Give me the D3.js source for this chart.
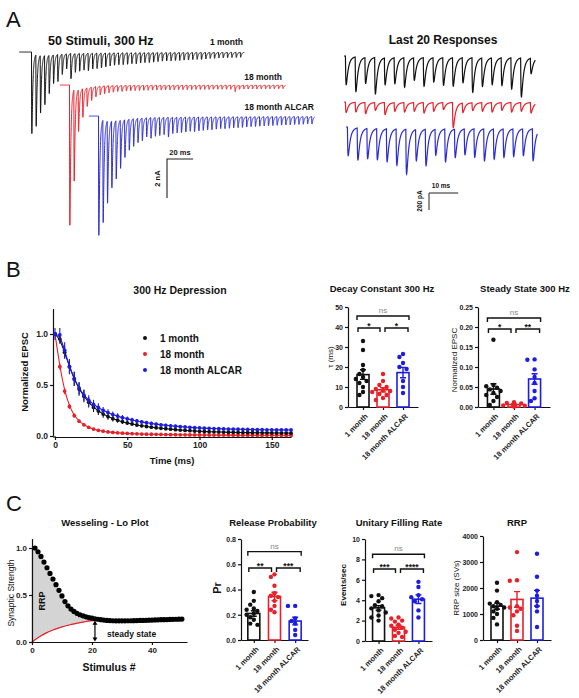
<!DOCTYPE html>
<html><head><meta charset="utf-8">
<script src="https://cdnjs.cloudflare.com/ajax/libs/d3/7.8.5/d3.min.js"></script>
<style>
body{margin:0;background:#fff;}
svg text{font-family:"Liberation Sans",Arial,Helvetica,sans-serif;}
</style></head>
<body><svg id="fig" width="579" height="698"></svg>
<script>
// ---------------- DATA ----------------
const groups = ["1 month", "18 month", "18 month ALCAR"];
const groupColors = ["#111111", "#e8202a", "#1d1de0"];

// Panel A: peak amplitudes (nA) of the 50 responses of the 300 Hz train
const trainBlack = [4.1,3.6,2.9,2.48,1.93,1.45,1.37,1.03,0.77,1.28,0.95,0.9,0.85,0.88,0.8,0.78,0.75,0.7,0.66,0.62,0.6,0.6,0.58,0.55,0.56,0.52,0.5,0.5,0.48,0.45,0.43,0.42,0.42,0.4,0.4,0.38,0.38,0.36,0.35,0.35,0.33,0.3,0.3,0.28,0.28,0.27,0.26,0.26,0.25,0.18];
const trainRed = [7.05,4.6,2.1,1.45,0.94,0.68,0.52,0.45,0.4,0.36,0.33,0.3,0.3,0.28,0.27,0.26,0.26,0.25,0.25,0.24,0.24,0.24,0.23,0.23,0.23,0.22,0.22,0.22,0.22,0.21,0.21,0.21,0.21,0.2,0.2,0.2,0.2,0.2,0.32,0.2,0.19,0.19,0.19,0.19,0.18,0.18,0.18,0.18,0.18,0.17];
const trainBlue = [6.0,5.16,4.14,3.37,2.94,2.43,1.91,1.57,1.4,1.23,1.15,0.97,1.05,0.95,0.92,0.88,1.0,0.82,0.8,0.78,0.75,0.72,0.75,0.7,0.68,0.66,0.65,0.62,0.6,0.6,0.58,0.56,0.55,0.54,0.52,0.5,0.5,0.48,0.47,0.46,0.45,0.44,0.43,0.42,0.42,0.4,0.4,0.39,0.38,0.38];
// Panel A right: last 20 responses (pA)
const last20Black = [330,400,300,420,310,300,340,260,330,280,320,330,290,400,330,310,320,360,450,180];
const last20Red = [120,110,130,90,140,100,110,100,120,100,80,290,110,90,100,110,90,110,100,120];
const last20Blue = [330,370,350,360,380,420,520,360,420,300,380,330,300,330,370,350,330,320,310,370];

// Panel B: normalized EPSC during 300 Hz depression (50 stimuli)
const depBlack = [1.0,0.95,0.82,0.68,0.56,0.46,0.39,0.33,0.28,0.245,0.215,0.19,0.17,0.155,0.14,0.128,0.118,0.108,0.1,0.093,0.087,0.081,0.076,0.071,0.067,0.062,0.058,0.055,0.052,0.049,0.046,0.044,0.042,0.041,0.04,0.038,0.037,0.036,0.035,0.034,0.033,0.033,0.032,0.031,0.031,0.03,0.03,0.029,0.029,0.028];
const depRed = [1.0,0.68,0.44,0.29,0.2,0.145,0.11,0.085,0.068,0.056,0.047,0.04,0.035,0.031,0.028,0.025,0.023,0.021,0.019,0.018,0.017,0.016,0.015,0.014,0.013,0.013,0.012,0.012,0.011,0.011,0.01,0.01,0.01,0.009,0.009,0.009,0.009,0.008,0.008,0.008,0.008,0.008,0.007,0.007,0.007,0.007,0.007,0.007,0.006,0.006];
const depBlue = [1.0,0.99,0.84,0.68,0.56,0.47,0.4,0.35,0.31,0.28,0.25,0.23,0.21,0.195,0.18,0.168,0.157,0.147,0.138,0.13,0.123,0.116,0.11,0.105,0.1,0.096,0.092,0.088,0.085,0.082,0.079,0.077,0.075,0.073,0.071,0.07,0.068,0.067,0.066,0.065,0.064,0.063,0.062,0.062,0.061,0.061,0.06,0.06,0.06,0.059];
const semBlack = [0.01,0.045,0.06,0.07,0.07,0.065,0.06,0.05,0.045,0.04,0.035,0.03,0.028,0.025,0.022,0.02,0.018,0.016,0.015,0.014,0.013,0.012,0.012,0.011,0.011,0.01,0.01,0.01,0.01,0.009,0.009,0.009,0.009,0.009,0.008,0.008,0.008,0.008,0.008,0.008,0.008,0.008,0.008,0.008,0.008,0.008,0.008,0.008,0.008,0.008];
const semRed = [0.01,0.03,0.03,0.025,0.02,0.015,0.012,0.01,0.009,0.008,0.007,0.006,0.005,0.005,0.005,0.005,0.004,0.004,0.004,0.004,0.004,0.004,0.004,0.003,0.003,0.003,0.003,0.003,0.003,0.003,0.003,0.003,0.003,0.003,0.003,0.003,0.003,0.003,0.003,0.003,0.003,0.003,0.003,0.003,0.003,0.003,0.003,0.003,0.003,0.003];
const semBlue = [0.06,0.07,0.08,0.075,0.07,0.06,0.055,0.05,0.045,0.04,0.035,0.032,0.03,0.028,0.026,0.024,0.022,0.02,0.019,0.018,0.017,0.016,0.015,0.015,0.014,0.014,0.013,0.013,0.013,0.012,0.012,0.012,0.012,0.012,0.012,0.012,0.012,0.012,0.012,0.012,0.012,0.012,0.012,0.012,0.012,0.012,0.012,0.012,0.012,0.012];

// Bar charts (points per group, mean, SEM)
const decayPts = [[33,28.5,21,18.5,16.5,15,14,13,12,10,7.5,6],[16.5,13,11,10,9,8.5,8,7.5,6.5,6,4.5,3.5],[26.5,25,22,20,19,13,10,7]];
const decayMean = [16.2,8.6,17.2], decaySem = [2.4,1.1,2.6];
const steadyPts = [[0.168,0.055,0.052,0.048,0.044,0.04,0.035,0.03,0.025,0.015,0.005],[0.012,0.01,0.009,0.008,0.007,0.006,0.005,0.004,0.003,0.002,0.001],[0.119,0.118,0.094,0.075,0.06,0.04,0.022,0.015]];
const steadyMean = [0.045,0.006,0.07], steadySem = [0.013,0.0015,0.013];
const prPts = [[0.38,0.31,0.28,0.25,0.24,0.23,0.21,0.2,0.18,0.16,0.13,0.12],[0.52,0.5,0.43,0.37,0.35,0.34,0.31,0.27,0.24,0.22],[0.27,0.27,0.17,0.15,0.13,0.08,0.04]];
const prMean = [0.21,0.345,0.15], prSem = [0.022,0.033,0.03];
const fillPts = [[4.5,4.4,4.2,3.9,3.5,3.4,3.2,3.0,2.8,2.5,2.3,2.0],[2.3,2.2,2.0,1.9,1.6,1.5,1.3,1.1,0.9,0.8,0.5,0.4],[5.8,5.3,4.5,4.3,4.1,3.9,3.0,2.3]];
const fillMean = [3.25,1.35,4.1], fillSem = [0.22,0.2,0.42];
const rrpPts = [[2200,1900,1450,1400,1350,1300,1250,1200,1100,1000,850,600],[3380,2300,2280,1300,1250,1200,1100,950,550,350],[3320,2430,1900,1700,1500,1300,1100,500]];
const rrpMean = [1300,1560,1610], rrpSem = [120,300,300];

// Wesseling-Lo plot: synaptic strength per stimulus (1..50) and steady-state replenishment line (0..50)
const wessDots = [1.0,0.96,0.91,0.85,0.79,0.73,0.67,0.61,0.55,0.49,0.43,0.385,0.35,0.325,0.305,0.29,0.278,0.268,0.26,0.253,0.247,0.242,0.237,0.233,0.23,0.228,0.226,0.225,0.225,0.225,0.225,0.226,0.226,0.227,0.228,0.229,0.23,0.231,0.232,0.233,0.235,0.236,0.237,0.238,0.239,0.24,0.241,0.242,0.243,0.244];
const wessRed = [0,0.024,0.046,0.066,0.084,0.1,0.115,0.128,0.14,0.151,0.161,0.17,0.178,0.186,0.193,0.2,0.206,0.212,0.218,0.223,0.228,0.231,0.233,0.234,0.235,0.235,0.235,0.235,0.235,0.235,0.235,0.235,0.235,0.235,0.235,0.235,0.235,0.235,0.235,0.235,0.235,0.235,0.235,0.235,0.235,0.235,0.235,0.235,0.235,0.235,0.235];

// ---------------- DRAWING ----------------
const svg = d3.select("#fig");
function T(x, y, s, o = {}) {
  const t = svg.append("text").attr("x", x).attr("y", y).text(s)
    .attr("font-size", o.size || 9)
    .attr("font-weight", o.bold === false ? "normal" : "bold")
    .attr("text-anchor", o.anchor || "start")
    .attr("fill", o.fill || "#111");
  if (o.rot) t.attr("transform", `rotate(${o.rot},${x},${y})`);
  return t;
}
function styleAxis(g, fs) {
  g.selectAll("path,line").attr("stroke", "#111").attr("stroke-width", 1.2);
  g.selectAll("text").attr("font-size", fs || 7.5).attr("font-weight", "bold").attr("fill", "#222")
    .attr("font-family", "'Liberation Sans',Arial,sans-serif");
}

// panel letters
T(6, 27, "A", {size: 22, bold: false});
T(6, 277, "B", {size: 22, bold: false});
T(6, 511, "C", {size: 22, bold: false});

// ---- Panel A traces ----
const ISI = 10 / 3;
const tauR = 0.12, tauD = 0.7, tauS = 6, slowF = 0.04;
let kPeak = 0;
for (let t = 0; t < 5; t += 0.005) kPeak = Math.max(kPeak, Math.exp(-t / tauD) - Math.exp(-t / tauR));
const kern = t => t <= 0 ? 0 : (Math.exp(-t / tauD) - Math.exp(-t / tauR)) / kPeak + slowF * (1 - Math.exp(-t / 0.3)) * Math.exp(-t / tauS);
function synth(amps, t0, tEnd, dt, lat) {
  const pts = [];
  for (let t = t0; t <= tEnd + 1e-9; t += dt) {
    let v = 0;
    amps.forEach((a, i) => { const s = t - i * ISI - lat; if (s > 0 && s < 40) v += a * kern(s); });
    pts.push([t, v]);
  }
  return pts;
}
const pxPerMs = 1.305;
const trainDefs = [
  {amps: trainBlack, x0: 31, base: 52, pre: 9, end: 163.5, c: groupColors[0]},
  {amps: trainRed, x0: 69, base: 85, pre: 7, end: 166, c: groupColors[1]},
  {amps: trainBlue, x0: 98, base: 116, pre: 7, end: 166, c: "#2b2bd6"}
];
const nA = 19.5; // px per nA
trainDefs.forEach(d => {
  const xs = d3.scaleLinear().domain([0, 100]).range([d.x0, d.x0 + 100 * pxPerMs]);
  const ys = d3.scaleLinear().domain([0, 10]).range([d.base, d.base + 10 * nA]);
  const pts = synth(d.amps, -d.pre, d.end, 0.04, 0.4);
  svg.append("path").attr("d", d3.line().x(p => xs(p[0])).y(p => ys(p[1]))(pts))
    .attr("fill", "none").attr("stroke", d.c).attr("stroke-width", 1);
});
T(48, 45, "50 Stimuli, 300 Hz", {size: 12.5});
T(243, 45, groups[0], {size: 8.5, anchor: "end"});
T(282, 80, groups[1], {size: 8.5, anchor: "end"});
T(314, 110, groups[2], {size: 8.5, anchor: "end"});
// scale bar A (20 ms, 2 nA)
{
  const xs = d3.scaleLinear().domain([0, 20]).range([167, 167 + 20 * pxPerMs]);
  const ys = d3.scaleLinear().domain([0, 2]).range([159, 159 + 2 * nA]);
  svg.append("path").attr("d", `M${xs(20)},${ys(0)}H${xs(0)}V${ys(2)}`).attr("fill", "none").attr("stroke", "#222").attr("stroke-width", 1.1);
  T(180, 155, "20 ms", {size: 7.5, anchor: "middle"});
  T(160, ys(1), "2 nA", {size: 7.5, anchor: "middle", rot: -90});
}

// last 20 responses
const l20px = 2.92, pA = 17 / 200;
const l20Defs = [
  {amps: last20Black, x0: 344, base: 56, c: groupColors[0]},
  {amps: last20Red, x0: 344, base: 102, c: groupColors[1]},
  {amps: last20Blue, x0: 346, base: 127, c: "#2b2bd6"}
];
l20Defs.forEach(d => {
  const xs = d3.scaleLinear().domain([0, 10]).range([d.x0, d.x0 + 10 * l20px]);
  const ys = d3.scaleLinear().domain([0, 1000]).range([d.base, d.base + 1000 * pA]);
  const pts = synth(d.amps, 0, 19 * ISI + 2.2, 0.03, 0.5);
  svg.append("path").attr("d", d3.line().x(p => xs(p[0])).y(p => ys(p[1]))(pts))
    .attr("fill", "none").attr("stroke", d.c).attr("stroke-width", 1.2);
});
T(443, 44, "Last 20 Responses", {size: 12, anchor: "middle"});
{
  const xs = d3.scaleLinear().domain([0, 10]).range([429, 429 + 10 * l20px]);
  const ys = d3.scaleLinear().domain([0, 200]).range([193, 193 + 200 * pA]);
  svg.append("path").attr("d", `M${xs(10)},${ys(0)}H${xs(0)}V${ys(200)}`).attr("fill", "none").attr("stroke", "#222").attr("stroke-width", 1);
  T(441, 188, "10 ms", {size: 6.5, anchor: "middle"});
  T(422, 201, "200 pA", {size: 6.5, anchor: "middle", rot: -90});
}

// ---- Panel B: depression ----
T(180, 294, "300 Hz Depression", {size: 10.5, anchor: "middle"});
const bX = d3.scaleLinear().domain([0, 163.3]).range([55, 291]);
const bY = d3.scaleLinear().domain([0, 1.25]).range([436, 308.5]);
{
  const gy = svg.append("g").attr("transform", "translate(53,0)")
    .call(d3.axisLeft(bY).tickValues([0, 0.5, 1]).tickFormat(d3.format(".1f")).tickSize(3).tickSizeOuter(0).tickPadding(2));
  styleAxis(gy, 8.5);
  const gx = svg.append("g").attr("transform", "translate(0,437)")
    .call(d3.axisBottom(bX).tickValues([0, 50, 100, 150]).tickSize(3).tickSizeOuter(0).tickPadding(2));
  styleAxis(gx, 8.5);
  svg.append("line").attr("x1", 53).attr("x2", 56).attr("y1", 437).attr("y2", 437).attr("stroke", "#111").attr("stroke-width", 1.2);
  T(172, 464, "Time (ms)", {size: 9.5, anchor: "middle"});
  T(28, 372, "Normalized EPSC", {size: 9.5, anchor: "middle", rot: -90});
  const stimT = d3.range(50).map(i => i * ISI);
  const series = [[depRed, semRed, groupColors[1]], [depBlack, semBlack, groupColors[0]], [depBlue, semBlue, groupColors[2]]];
  series.forEach(([v, s, c]) => {
    svg.append("path").attr("d", d3.line().curve(d3.curveBasis).x((d, i) => bX(stimT[i])).y(d => bY(d))(v))
      .attr("fill", "none").attr("stroke", c).attr("stroke-width", 1.1);
  });
  series.forEach(([v, s, c]) => {
    const g = svg.append("g");
    v.forEach((d, i) => {
      g.append("line").attr("x1", bX(stimT[i])).attr("x2", bX(stimT[i])).attr("y1", bY(d - s[i])).attr("y2", bY(d + s[i])).attr("stroke", c).attr("stroke-width", 1.1);
      g.append("circle").attr("cx", bX(stimT[i])).attr("cy", bY(d)).attr("r", 1.9).attr("fill", c);
    });
  });
  groups.forEach((gname, i) => {
    svg.append("circle").attr("cx", 145).attr("cy", 338 + i * 16).attr("r", 2).attr("fill", groupColors[i]);
    T(160, 342 + i * 16, gname, {size: 10});
  });
}

// ---- bar charts ----
function barChart(c) {
  const y = d3.scaleLinear().domain([0, c.yMax]).range([c.y0, c.yTop]);
  const x = d3.scalePoint().domain(groups).range([c.ax, c.xEnd]).padding(c.pad);
  T(c.titleX, c.titleY, c.title, {size: 9.5, anchor: "middle"});
  const gy = svg.append("g").attr("transform", `translate(${c.ax},0)`)
    .call(d3.axisLeft(y).tickValues(c.ticks).tickFormat(c.fmt).tickSize(3).tickSizeOuter(0).tickPadding(2));
  styleAxis(gy, 7);
  const gx = svg.append("g").attr("transform", `translate(0,${c.y0})`)
    .call(d3.axisBottom(x).tickSize(3).tickSizeOuter(0));
  styleAxis(gx, 7.5);
  gx.selectAll(".tick text").attr("x", 0).attr("y", 0).attr("dy", "0.35em")
    .attr("transform", "translate(3,8) rotate(-45)").attr("text-anchor", "end");
  T(c.ylabX, c.ylabY, c.ylab, {size: c.ylabSize || 8, anchor: "middle", rot: -90, bold: !!c.ylabBold});
  const bw = 12;
  groups.forEach((gname, gi) => {
    const cx = x(gname), col = groupColors[gi];
    const g = svg.append("g");
    g.append("rect").attr("x", cx - bw / 2).attr("y", y(c.mean[gi])).attr("width", bw).attr("height", c.y0 - y(c.mean[gi]))
      .attr("fill", "white").attr("stroke", col).attr("stroke-width", 1.6);
    // beeswarm points
    const placed = [];
    const r = 2.2;
    c.pts[gi].slice().sort((a, b) => b - a).forEach(v => {
      const py = y(v);
      const offs = [0, -3.6, 3.6, -7.2, 7.2, -10.8, 10.8];
      let ox = 0;
      for (const o of offs) {
        if (placed.every(p => Math.hypot(p[0] - o, p[1] - py) >= 2 * r * 0.95)) { ox = o; break; }
      }
      placed.push([ox, py]);
      g.append("circle").attr("cx", cx + ox).attr("cy", py).attr("r", r).attr("fill", col);
    });
    const m = c.mean[gi], s = c.sem[gi];
    g.append("path").attr("d", `M${cx},${y(m - s)}V${y(m + s)}M${cx - 3},${y(m + s)}H${cx + 3}M${cx - 3},${y(m - s)}H${cx + 3}`)
      .attr("stroke", col).attr("stroke-width", 1.4).attr("fill", "none");
  });
  (c.brackets || []).forEach(([a, b, lab, val]) => {
    const xa = x(groups[a]), xb = x(groups[b]);
    let x1, x2;
    if (b - a === 2) { x1 = xa - 6; x2 = xb + 6; }
    else if (a === 0) { x1 = xa - 5; x2 = xb - 3; }
    else { x1 = xa + 2; x2 = xb + 5; }
    const yy = y(val);
    svg.append("path").attr("d", `M${x1},${yy + 4}V${yy}H${x2}V${yy + 4}`).attr("fill", "none").attr("stroke", "#111").attr("stroke-width", 1.4);
    if (lab === "ns") T((x1 + x2) / 2, yy - 3, lab, {size: 8, anchor: "middle", bold: false, fill: "#888"});
    else T((x1 + x2) / 2, yy + 1, lab, {size: 8.5, anchor: "middle"});
  });
}
barChart({title: "Decay Constant 300 Hz", titleX: 382, titleY: 292, ax: 348, xEnd: 418, pad: 0.75, y0: 407, yTop: 307, yMax: 50,
  ticks: [0, 10, 20, 30, 40, 50], fmt: d3.format("d"), ylab: "τ (ms)", ylabX: 333, ylabY: 357,
  pts: decayPts, mean: decayMean, sem: decaySem, brackets: [[0, 1, "*", 39.5], [1, 2, "*", 39.5], [0, 2, "ns", 45.5]]});
barChart({title: "Steady State 300 Hz", titleX: 525, titleY: 292, ax: 478, xEnd: 550, pad: 0.75, y0: 407, yTop: 307, yMax: 0.25,
  ticks: [0, 0.05, 0.1, 0.15, 0.2, 0.25], fmt: d3.format(".2f"), ylab: "Normalized EPSC", ylabX: 457, ylabY: 360,
  pts: steadyPts, mean: steadyMean, sem: steadySem, brackets: [[0, 1, "*", 0.195], [1, 2, "**", 0.195], [0, 2, "ns", 0.2225]]});
barChart({title: "Release Probability", titleX: 273, titleY: 526, ax: 241, xEnd: 308, pad: 0.62, y0: 640, yTop: 539, yMax: 0.8,
  ticks: [0, 0.2, 0.4, 0.6, 0.8], fmt: d3.format(".1f"), ylab: "Pr", ylabX: 221, ylabY: 588, ylabSize: 11, ylabBold: true,
  pts: prPts, mean: prMean, sem: prSem, brackets: [[0, 1, "**", 0.57], [1, 2, "***", 0.57], [0, 2, "ns", 0.70]]});
barChart({title: "Unitary Filling Rate", titleX: 399, titleY: 526, ax: 365, xEnd: 432, pad: 0.68, y0: 641, yTop: 539, yMax: 10,
  ticks: [0, 2, 4, 6, 8, 10], fmt: d3.format("d"), ylab: "Events/sec", ylabX: 346, ylabY: 585, ylabBold: true,
  pts: fillPts, mean: fillMean, sem: fillSem, brackets: [[0, 1, "***", 7.06], [1, 2, "****", 7.06], [0, 2, "ns", 8.5]]});
barChart({title: "RRP", titleX: 517, titleY: 526, ax: 483, xEnd: 551, pad: 0.7, y0: 640, yTop: 536, yMax: 4000,
  ticks: [0, 1000, 2000, 3000, 4000], fmt: d3.format("d"), ylab: "RRP size (SVs)", ylabX: 459, ylabY: 588,
  pts: rrpPts, mean: rrpMean, sem: rrpSem, brackets: []});

// ---- Panel C: Wesseling-Lo plot ----
{
  T(105, 526, "Wesseling - Lo Plot", {size: 9.5, anchor: "middle"});
  const wX = d3.scaleLinear().domain([0, 51.7]).range([32, 187]);
  const wY = d3.scaleLinear().domain([0, 1.1]).range([642, 538.6]);
  const n0 = d3.range(0, 22);
  svg.append("path").attr("d", d3.area().x(n => wX(n)).y0(n => wY(wessRed[n])).y1(n => wY(n === 0 ? wessDots[0] : wessDots[n - 1]))(n0))
    .attr("fill", "#d4d4d4").attr("stroke", "#bbb").attr("stroke-width", 0.6);
  svg.append("path").attr("d", d3.line().curve(d3.curveMonotoneX).x((d, i) => wX(i)).y(d => wY(d))(wessRed))
    .attr("fill", "none").attr("stroke", "#e8202a").attr("stroke-width", 1.2);
  wessDots.forEach((v, i) => svg.append("circle").attr("cx", wX(i + 1)).attr("cy", wY(v)).attr("r", 2.6).attr("fill", "#000"));
  const gy = svg.append("g").attr("transform", "translate(32,0)")
    .call(d3.axisLeft(wY).tickValues([0, 0.5, 1]).tickFormat(d3.format(".1f")).tickSize(3).tickSizeOuter(0).tickPadding(2));
  styleAxis(gy, 8);
  const gx = svg.append("g").attr("transform", "translate(0,642)")
    .call(d3.axisBottom(wX).tickValues([0, 20, 40]).tickSize(3).tickSizeOuter(0).tickPadding(2));
  styleAxis(gx, 8);
  T(109, 671, "Stimulus #", {size: 10.5, anchor: "middle"});
  T(14, 593, "Synaptic Strength", {size: 8.5, anchor: "middle", rot: -90, bold: false});
  T(45, 601, "RRP", {size: 9, anchor: "middle", rot: -90});
  // steady state arrow
  const ax = wX(21), ya = wY(0.005), yb = wY(0.225);
  svg.append("line").attr("x1", ax).attr("x2", ax).attr("y1", ya - 3).attr("y2", yb + 3).attr("stroke", "#000").attr("stroke-width", 1.2);
  svg.append("path").attr("d", `M${ax},${ya}l-2.5,-4h5z M${ax},${yb}l-2.5,4h5z`).attr("fill", "#000");
  T(107, 637, "steady state", {size: 8.5});
}
</script></body></html>
